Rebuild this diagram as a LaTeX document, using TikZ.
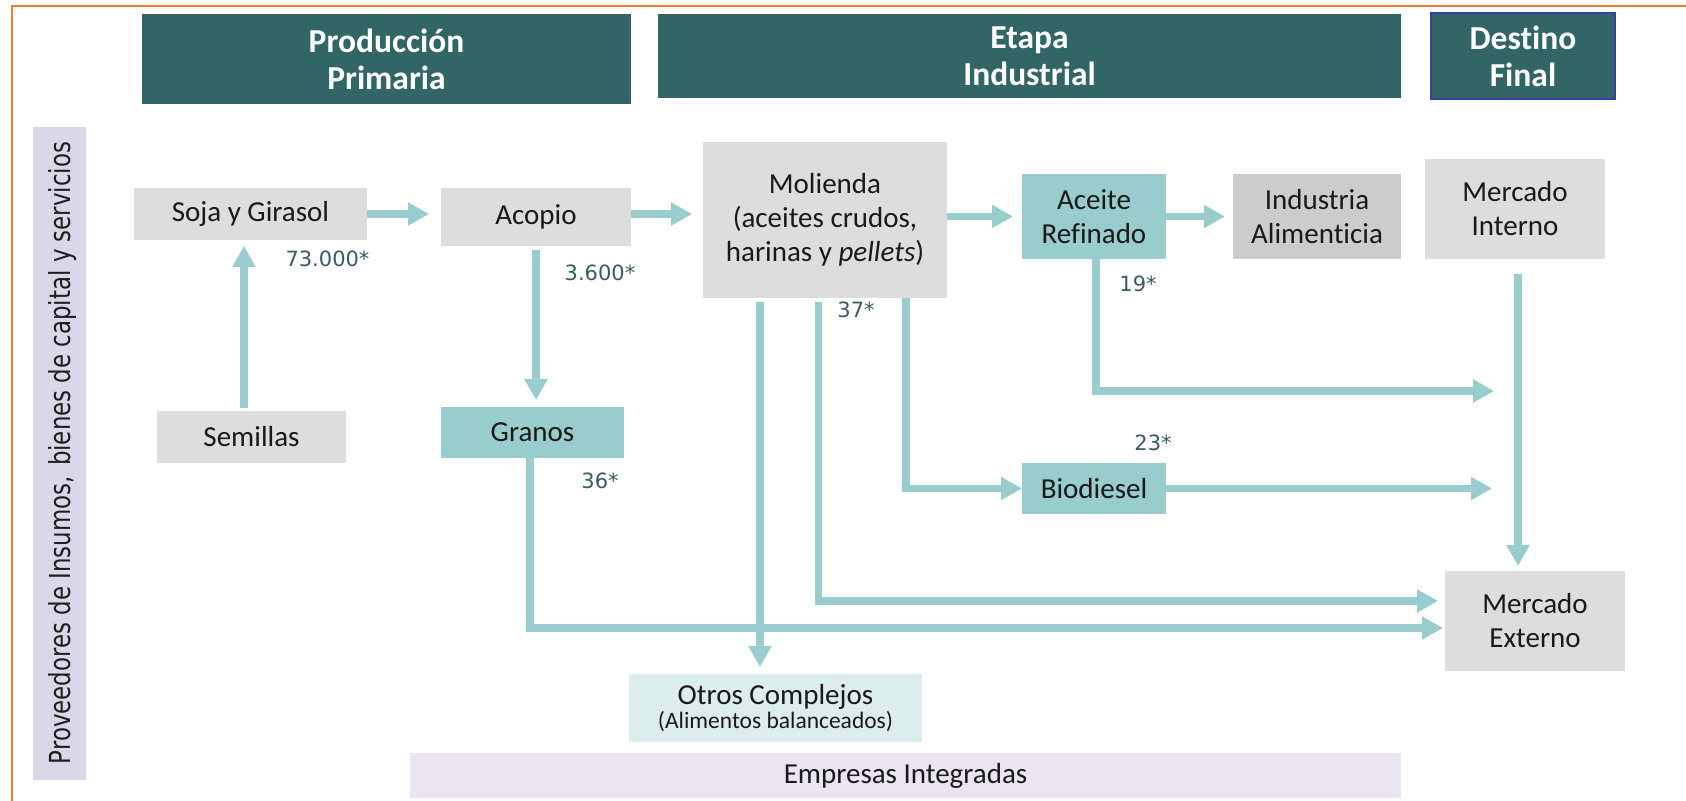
\documentclass[tikz,border=0pt]{standalone}
\usepackage{fontspec}
\setmainfont{Carlito}[Ligatures=NoCommon]
\newfontfamily\dejavu{DejaVu Sans}
\usetikzlibrary{arrows.meta}
\definecolor{hdr}{RGB}{50,101,101}
\definecolor{flow}{RGB}{153,204,204}
\definecolor{greybox}{RGB}{221,221,221}
\definecolor{darkgrey}{RGB}{204,204,204}
\definecolor{paleteal}{RGB}{220,237,237}
\definecolor{lilac}{RGB}{235,228,242}
\definecolor{sidebar}{RGB}{218,216,232}
\definecolor{frameorange}{RGB}{237,125,49}
\definecolor{navyedge}{RGB}{60,60,160}
\definecolor{qty}{RGB}{55,90,100}

\begin{document}
\begin{tikzpicture}[x=0.5pt,y=-0.5pt,
  every node/.style={inner sep=0pt, outer sep=0pt},
  blk/.style={rectangle, align=center, text=black!90,
    font=\fontsize{14.5}{17}\selectfont},
  stage/.style={rectangle, fill=hdr, align=center, text=white,
    font=\bfseries\fontsize{16.75}{18.5}\selectfont},
  qtylabel/.style={text=qty, font=\dejavu\fontsize{10.5}{12}\selectfont},
  flowline/.style={draw=flow, line width=3.75pt},
  flowarrow/.style={flowline, -{Triangle[length=10.5pt, width=11pt]}},
]
\useasboundingbox (0,0) rectangle (1686,801);

% outer frame (top and left edges)
\draw[frameorange, line width=1pt] (12,801) -- (12,6) -- (1686,6);

% stage headers
\node[stage, minimum width=244.5pt, minimum height=45pt] (prod) at (386.5,59) {Producción\\Primaria};
\node[stage, minimum width=371.5pt, minimum height=42pt] (ind) at (1029.5,56) {Etapa\\Industrial};
\node[stage, draw=navyedge, line width=1pt, minimum width=92pt, minimum height=43pt] (dest) at (1523,56) {Destino\\Final};

% suppliers side bar
\node[fill=sidebar, minimum width=26.5pt, minimum height=326.5pt] (prov) at (59.5,453.5) {};
\node[rotate=90, text=black!88, font=\dejavu\fontsize{14.5}{16}\selectfont] (provtxt) at (62.5,453)
  {\scalebox{0.79}[1]{Proveedores de Insumos,\hspace{0.12em} bienes de capital y servicios}};

% process boxes
\node[blk, fill=greybox, minimum width=116.5pt, minimum height=26pt] (soja) at (250.5,214) {Soja y Girasol};
\node[blk, fill=greybox, minimum width=95pt, minimum height=29pt] (acopio) at (536,217) {Acopio};
\node[blk, fill=greybox, minimum width=122pt, minimum height=78pt] (molienda) at (825,220)
  {Molienda\\(aceites crudos,\\harinas y \emph{pellets})};
\node[blk, fill=flow, minimum width=72pt, minimum height=42.5pt] (aceite) at (1094,216.5) {Aceite\\Refinado};
\node[blk, fill=darkgrey, minimum width=84pt, minimum height=42.5pt] (industria) at (1317,216.5) {Industria\\Alimenticia};
\node[blk, fill=greybox, minimum width=90pt, minimum height=50pt] (minterno) at (1515,209) {Mercado\\Interno};
\node[blk, fill=greybox, minimum width=94.5pt, minimum height=26pt] (semillas) at (251.5,437) {Semillas};
\node[blk, fill=flow, minimum width=91.5pt, minimum height=25.5pt] (granos) at (532.5,432.5) {Granos};
\node[blk, fill=flow, minimum width=72pt, minimum height=25.5pt] (biodiesel) at (1094,488.5) {Biodiesel};
\node[blk, fill=greybox, minimum width=90pt, minimum height=50pt] (mexterno) at (1535,621) {Mercado\\Externo};
\node[blk, fill=paleteal, minimum width=146.5pt, minimum height=34pt,
  font=\fontsize{14.5}{12}\selectfont] (otros) at (775.5,708)
  {Otros Complejos\\{\fontsize{11.75}{12}\selectfont (Alimentos balanceados)}};
\node[blk, fill=lilac, minimum width=495.5pt, minimum height=22.5pt] (empresas) at (905.5,775.5) {Empresas Integradas};

% free ends of the outgoing flows
\coordinate (outA) at (1494,391);
\coordinate (outB) at (1492,487);

% flows
\draw[flowarrow, shorten >=6pt] (soja.east) -- (soja.east -| acopio.west);
\draw[flowarrow, shorten >=5.5pt] (acopio.east |- soja.east) -- (molienda.west |- soja.east);
\draw[flowarrow, shorten >=4.5pt] (molienda.east |- aceite.west) -- (aceite.west);
\draw[flowarrow, shorten >=4pt] (aceite.east) -- (industria.west);
\draw[flowarrow, shorten <=1.5pt, shorten >=3pt] ([xshift=-3.75pt]semillas.north) -- ([xshift=-3.75pt]semillas.north |- soja.south);
\draw[flowarrow, shorten <=2pt, shorten >=3.5pt] (acopio.south) -- (granos.north -| acopio.south);
\draw[flowarrow, shorten >=1pt] ([xshift=-1.25pt]granos.south) |- ([yshift=-3.5pt]mexterno.west);
\draw[flowarrow, shorten <=2pt, shorten >=3.5pt] ([xshift=-7.75pt]otros.north |- molienda.south) -- ([xshift=-7.75pt]otros.north);
\draw[flowarrow, shorten <=2pt, shorten >=3.5pt] ([xshift=-3.25pt]molienda.south) |- ([yshift=10pt]mexterno.west);
\draw[flowarrow] ([xshift=40.5pt]molienda.south) |- (biodiesel.west);
\draw[flowarrow] ([xshift=1pt]aceite.south) |- (outA);
\draw[flowarrow] (biodiesel.east) -- (biodiesel.east -| outB);
\draw[flowarrow, shorten <=7.5pt, shorten >=2.5pt] ([xshift=1.5pt]minterno.south) -- ([xshift=1.5pt]minterno.south |- mexterno.north);

% quantities
\node[qtylabel] (q1) at (327.5,259) {73.000*};
\node[qtylabel] (q2) at (600,272.5) {3.600*};
\node[qtylabel] (q3) at (600,480.5) {36*};
\node[qtylabel] (q4) at (856,309.5) {37*};
\node[qtylabel] (q5) at (1138,284) {19*};
\node[qtylabel] (q6) at (1153,442.5) {23*};
\end{tikzpicture}
\end{document}
